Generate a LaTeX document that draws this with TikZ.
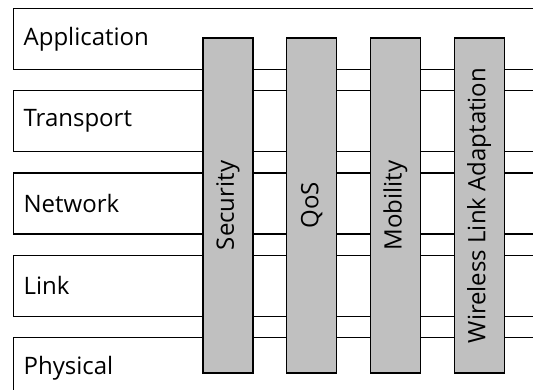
\documentclass[tikz,border=0pt]{standalone}
\usepackage{fontspec}
\setmainfont{Open Sans}
\usetikzlibrary{positioning}
\definecolor{barfill}{RGB}{192,192,192}
\tikzset{
  layer/.style={draw, line width=1.2pt, minimum width=540pt, minimum height=61pt,
    text width=520pt, align=left, inner xsep=10pt, inner ysep=0pt,
    font=\fontsize{24}{28}\selectfont},
  bar/.style={draw, line width=1.2pt, fill=barfill, minimum width=335pt,
    minimum height=50pt, inner sep=0pt, rotate=90,
    font=\fontsize{24}{28}\selectfont},
}

\begin{document}
\begin{tikzpicture}[x=1pt,y=-1pt]
      \useasboundingbox (0,0) rectangle (533,390);
      \clip (0,0) rectangle (533,390);

      % protocol layers
      \node [layer,anchor=north west] (app) at (13,8) {Application};
      \node [layer,below=20pt of app] (trans) {Transport};
      \node [layer,below=20pt of trans] (net) {Network};
      \node [layer,below=20pt of net] (link) {Link};
      \node [layer,below=20pt of link] (phys) {Physical};

      % cross-layer functions
      \node [bar] (sec) at (228,205.5) {Security};
      \node [bar] (qos) at ([xshift=83.7pt]sec.center) {QoS};
      \node [bar] (mob) at ([xshift=83.7pt]qos.center) {Mobility};
      \node [bar] (wla) at ([xshift=83.7pt]mob.center) {Wireless Link Adaptation};
    \end{tikzpicture}
\end{document}
